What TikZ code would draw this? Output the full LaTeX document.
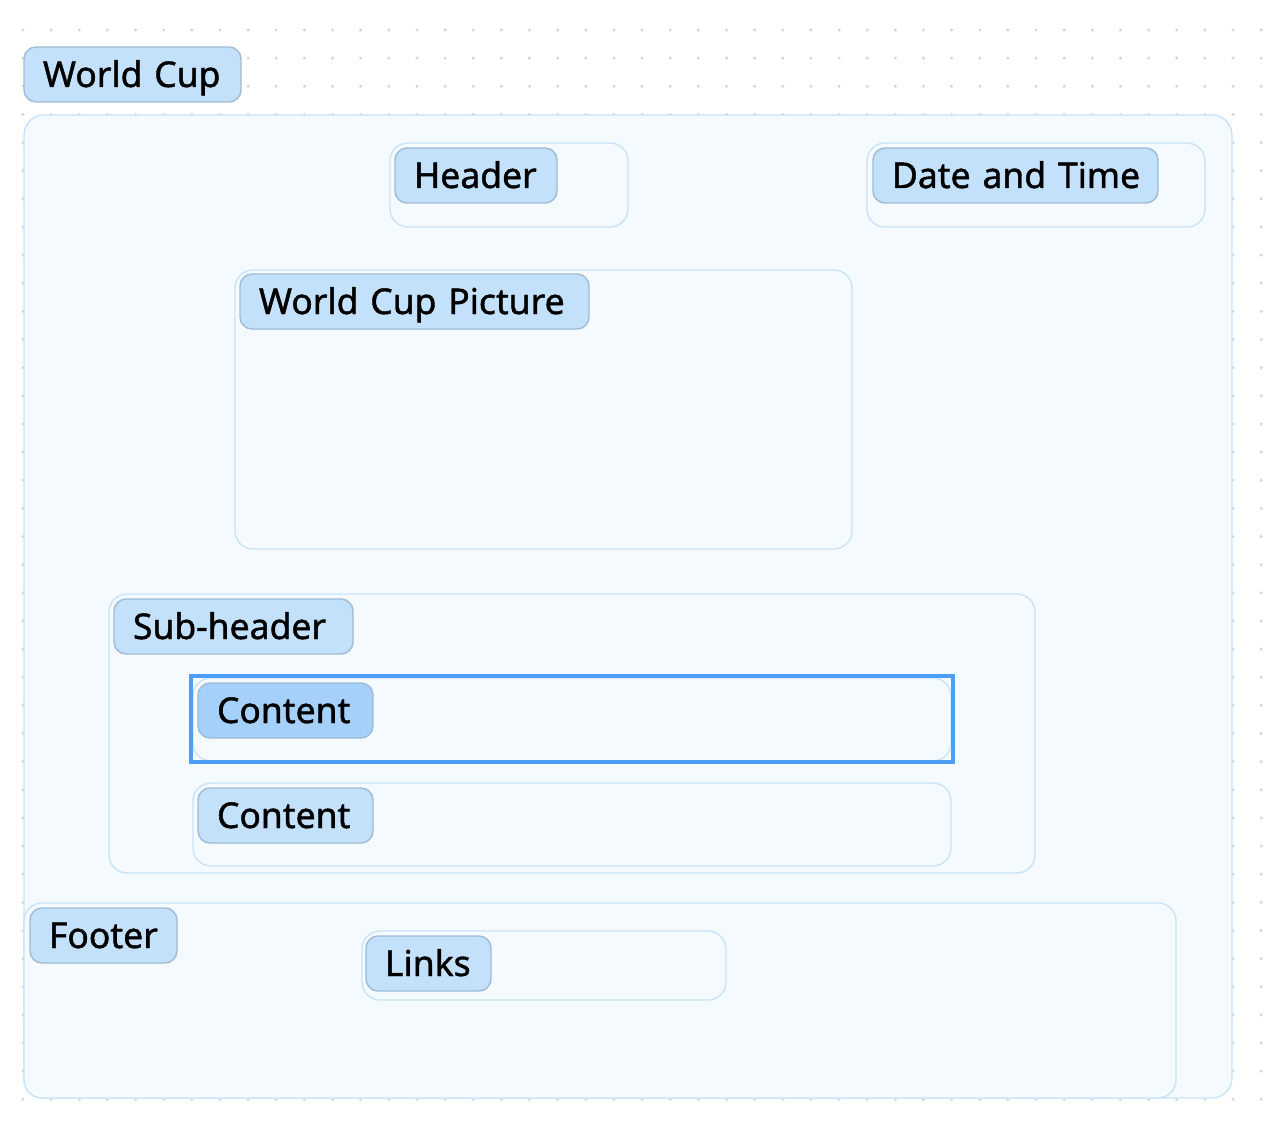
\documentclass[tikz,border=0pt]{standalone}
\usepackage{fontspec}
\newfontfamily\lblfont{Noto Sans}[FakeBold=1.2]
\definecolor{cfill}{HTML}{F5FAFF}
\definecolor{cline}{HTML}{C9E3FA}
\definecolor{lfill}{HTML}{C3E1FA}
\definecolor{lline}{HTML}{9FBBD6}
\definecolor{sfill}{HTML}{A4D0F9}
\definecolor{selc}{HTML}{4C9EF6}
\definecolor{dotc}{HTML}{D6D6D6}
\begin{document}
\begin{tikzpicture}[x=1pt,y=-1pt,
  box/.style n args={2}{draw=cline, fill=cfill, line width=1.4pt, rounded corners=18pt,
     anchor=north west, inner sep=0pt, outer sep=0pt, minimum width=#1, minimum height=#2},
  tag/.style={draw=lline, fill=lfill, line width=1.4pt, rounded corners=12pt,
     anchor=north west, inner xsep=19pt, inner ysep=0pt, outer sep=0pt,
     minimum height=55pt, text width=#1-38pt, align=left,
     font=\lblfont\fontsize{35.5}{40}\selectfont, text height=25pt, text depth=0pt},
  seltag/.style={tag=#1, fill=sfill},
  selbox/.style n args={2}{draw=selc, line width=3.6pt, anchor=north west, inner sep=0pt,
     outer sep=0pt, minimum width=#1, minimum height=#2}
]
\useasboundingbox (0,0) rectangle (1286,1126);
% dot grid
\foreach \i in {0,...,44}{
  \foreach \j in {0,...,39}{
    \fill[dotc] (23+28.14*\i, 30+28.14*\j) circle (1.7pt);
  }
}
% outer container
\node[box={1208pt}{983pt}, rounded corners=20pt] (outer) at (24,115) {};
\node[tag=217pt] (worldcup) at (24,47) {\mbox{World Cup}};
% header
\node[box={238pt}{84pt}] (headerbox) at (390,143) {};
\node[tag=162pt] (header) at (395,148) {\mbox{Header}};
% date and time
\node[box={338pt}{84pt}] (datebox) at (867,143) {};
\node[tag=285pt] (date) at (873,148) {\mbox{Date and Time}};
% picture
\node[box={617pt}{279pt}] (picbox) at (235,270) {};
\node[tag=349pt] (pic) at (240,274) {\mbox{World Cup Picture}};
% sub-header
\node[box={926pt}{279pt}] (subbox) at (109,594) {};
\node[tag=239pt] (sub) at (114,599) {\mbox{Sub-header}};
\node[box={758pt}{83pt}] (content1box) at (193,678) {};
\node[seltag=175pt] (content1) at (198,683) {\mbox{Content}};
\node[selbox={762pt}{86pt}] (selection) at (191,676) {};
\node[box={758pt}{83pt}] (content2box) at (193,783) {};
\node[tag=175pt] (content2) at (198,788) {\mbox{Content}};
% footer
\node[box={1152pt}{195pt}] (footbox) at (24,903) {};
\node[tag=147pt] (footer) at (30,908) {\mbox{Footer}};
\node[box={364pt}{69pt}] (linksbox) at (362,931) {};
\node[tag=125pt] (links) at (366,936) {\mbox{Links}};
\end{tikzpicture}
\end{document}
